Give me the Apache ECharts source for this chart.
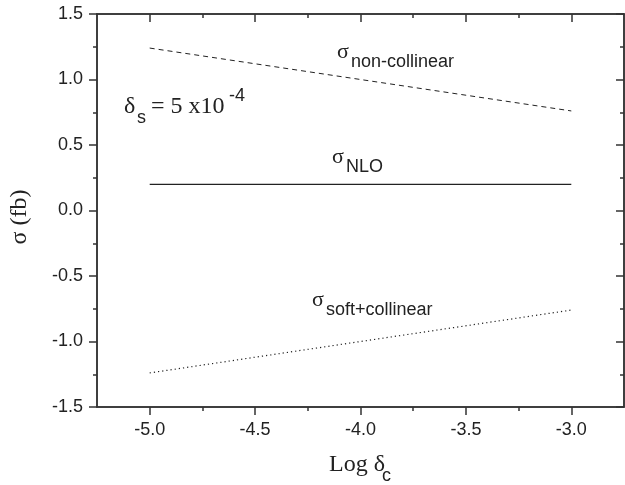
<!DOCTYPE html>
<html>
<head>
<meta charset="utf-8">
<script src="https://cdn.jsdelivr.net/npm/echarts@6/dist/echarts.min.js"></script>
<style>
html,body{margin:0;padding:0;background:#fff;}
#chart{width:625px;height:485px;}
</style>
</head>
<body>
<div id="chart"></div>
<script>
// ---- data ----
const xEnds = [-5.0, -3.0];
const sigmaNonCollinear = [1.24, 0.76];
const sigmaNLO = [0.2, 0.2];
const sigmaSoftCollinear = [-1.24, -0.76];
const xMajorTicks = [-5.0, -4.5, -4.0, -3.5, -3.0];
const xMinorTicks = [-4.75, -4.25, -3.75, -3.25];
const yTickLabels = [-1.5, -1.0, -0.5, 0.0, 0.5, 1.0, 1.5];

const SERIF = '"Liberation Serif", "DejaVu Serif", serif';
const SANS = '"Liberation Sans", Arial, sans-serif';
const INK = '#222';
const AX = '#333';

const pairs = ys => xEnds.map((x, i) => [x, ys[i]]);

const chart = echarts.init(document.getElementById('chart'), null, {renderer: 'canvas'});

const mkLine = () => ({show: true, onZero: false, lineStyle: {color: AX, width: 1.5}});
const noLine = () => ({show: false, onZero: false});
const xBase = {type: 'value', min: -5.25, max: -2.75, splitLine: {show: false}, gridIndex: 0};

function txt(x, y, text, font, extra) {
  return Object.assign({
    type: 'text', x: x, y: y, silent: true,
    style: {text: text, font: font, fill: INK, align: 'left', verticalAlign: 'middle'}
  }, extra || {});
}

chart.setOption({
  animation: false,
  backgroundColor: '#fff',
  grid: {left: 97, right: 1, top: 14, bottom: 78, show: true, borderColor: AX, borderWidth: 1.5,
    backgroundColor: 'transparent'},
  xAxis: [
    Object.assign({}, xBase, {
      position: 'bottom',
      axisLine: mkLine(),
      axisTick: {show: true, inside: false, length: 8, customValues: xMajorTicks, lineStyle: {color: AX, width: 1.5}},
      axisLabel: {show: true, customValues: xMajorTicks, margin: 14, color: INK, fontFamily: SANS, fontSize: 18,
        formatter: v => v.toFixed(1)}
    }),
    Object.assign({}, xBase, {
      position: 'bottom',
      axisLine: noLine(),
      axisTick: {show: true, inside: false, length: 4, customValues: xMinorTicks, lineStyle: {color: AX, width: 1.5}},
      axisLabel: {show: false}
    }),
    Object.assign({}, xBase, {
      position: 'top',
      axisLine: mkLine(),
      axisTick: {show: true, inside: true, length: 8, customValues: xMajorTicks, lineStyle: {color: AX, width: 1.5}},
      axisLabel: {show: false}
    }),
    Object.assign({}, xBase, {
      position: 'top',
      axisLine: noLine(),
      axisTick: {show: true, inside: true, length: 4, customValues: xMinorTicks, lineStyle: {color: AX, width: 1.5}},
      axisLabel: {show: false}
    })
  ],
  yAxis: [
    {
      type: 'value', position: 'left', min: -1.5, max: 1.5, interval: 0.5,
      splitLine: {show: false},
      axisLine: mkLine(),
      axisTick: {show: true, inside: false, length: 8, lineStyle: {color: AX, width: 1.5}},
      minorTick: {show: true, splitNumber: 2, length: 4, lineStyle: {color: AX, width: 1.5}},
      axisLabel: {show: true, margin: 14, color: INK, fontFamily: SANS, fontSize: 18,
        customValues: yTickLabels, formatter: v => v.toFixed(1)}
    },
    {
      type: 'value', position: 'right', min: -1.5, max: 1.5, interval: 0.5,
      splitLine: {show: false},
      axisLine: mkLine(),
      axisTick: {show: true, inside: true, length: 8, lineStyle: {color: AX, width: 1.5}},
      minorTick: {show: true, splitNumber: 2, length: 4, lineStyle: {color: AX, width: 1.5}},
      axisLabel: {show: false}
    }
  ],
  series: [
    {type: 'line', name: 'non-collinear', data: pairs(sigmaNonCollinear), symbol: 'none',
      lineStyle: {color: INK, width: 1, type: [5, 4]}},
    {type: 'line', name: 'NLO', data: pairs(sigmaNLO), symbol: 'none',
      lineStyle: {color: INK, width: 1.2, type: 'solid'}},
    {type: 'line', name: 'soft+collinear', data: pairs(sigmaSoftCollinear), symbol: 'none',
      lineStyle: {color: INK, width: 1.2, type: [1.2, 3]}}
  ],
  graphic: [
    // sigma non-collinear
    txt(337, 52, 'σ', '22px ' + SERIF),
    txt(351, 62, 'non-collinear', '18px ' + SANS),
    // sigma NLO
    txt(332, 157, 'σ', '22px ' + SERIF),
    txt(346, 167, 'NLO', '18px ' + SANS),
    // sigma soft+collinear
    txt(312, 300, 'σ', '22px ' + SERIF),
    txt(326, 310, 'soft+collinear', '18px ' + SANS),
    // delta_s = 5 x10^-4
    txt(124, 107, 'δ', '24px ' + SERIF),
    txt(137, 118, 's', '18px ' + SANS),
    txt(151, 107, '= 5 x10', '24px ' + SERIF),
    txt(229, 96, '-4', '18px ' + SANS),
    // x axis title
    txt(329, 465, 'Log δ', '24px ' + SERIF),
    txt(382, 476, 'c', '18px ' + SANS),
    // y axis title
    txt(20, 217, 'σ (fb)', '24px ' + SERIF, {rotation: Math.PI / 2,
      style: {text: 'σ (fb)', font: '24px ' + SERIF, fill: INK, align: 'center', verticalAlign: 'middle'}})
  ]
});
</script>
</body>
</html>
